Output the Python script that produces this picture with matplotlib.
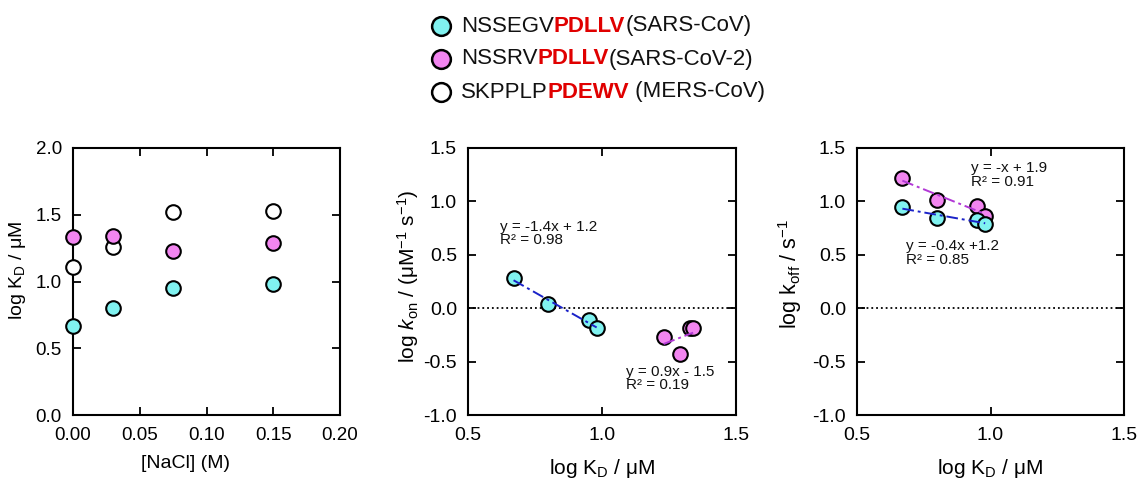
import numpy as np
import matplotlib
matplotlib.use("Agg")
import matplotlib.pyplot as plt
from matplotlib.lines import Line2D

plt.rcParams['font.family'] = ['Liberation Sans', 'DejaVu Sans']
plt.rcParams['mathtext.fontset'] = 'custom'
plt.rcParams['mathtext.rm'] = 'Liberation Sans'
plt.rcParams['mathtext.it'] = 'Liberation Sans:italic'
plt.rcParams['mathtext.bf'] = 'Liberation Sans:bold'
plt.rcParams['axes.unicode_minus'] = False

# ---------------- data ----------------
nacl = [0.0, 0.03, 0.075, 0.15]
kd_sars = [0.67, 0.80, 0.95, 0.98]
kd_sars2 = [1.33, 1.34, 1.23, 1.29]
kd_mers = [1.11, 1.26, 1.52, 1.53]

kon_sars = [0.28, 0.04, -0.11, -0.19]
kon_sars2 = [-0.19, -0.19, -0.27, -0.43]

koff_x = [0.67, 0.80, 0.95, 0.98]
koff_sars = [0.95, 0.84, 0.83, 0.79]
koff_sars2 = [1.22, 1.01, 0.96, 0.86]

legend_parts = [
    ("NSSEGV", "PDLLV", "(SARS-CoV)"),
    ("NSSRV", "PDLLV", "(SARS-CoV-2)"),
    ("SKPPLP", "PDEWV", " (MERS-CoV)"),
]
mid_eq_sars = "y = -1.4x + 1.2\nR² = 0.98"
mid_eq_sars2 = "y = 0.9x - 1.5\nR² = 0.19"
right_eq_sars2 = "y = -x + 1.9\nR² = 0.91"
right_eq_sars = "y = -0.4x +1.2\nR² = 0.85"

CYAN = '#80F2F0'
MAG = '#F285F0'
OPEN = 'white'
BLUE_LINE = '#1a22c8'
PURP_LINE = '#b238d6'

W, H = 1138, 479
fig = plt.figure(figsize=(W / 100, H / 100), dpi=100)


def rect(x0, x1, y0, y1):
    return [x0 / W, 1 - y1 / H, (x1 - x0) / W, (y1 - y0) / H]


ax1 = fig.add_axes(rect(73, 340, 148, 415))
ax2 = fig.add_axes(rect(468, 736, 148, 415))
ax3 = fig.add_axes(rect(857, 1124, 148, 415))

for ax in (ax1, ax2, ax3):
    for s in ax.spines.values():
        s.set_linewidth(1.5)
    ax.tick_params(direction='in', top=True, right=True, length=6, width=1.3,
                   labelsize=14)
    ax.tick_params(axis='x', pad=9)
    ax.tick_params(axis='y', pad=8)

ms = 10.5
mew = 1.5


def pts(ax, x, y, fc, z=3):
    ax.plot(x, y, 'o', ls='none', ms=ms, mfc=fc, mec='black', mew=mew,
            clip_on=False, zorder=z)


# ----- left panel -----
pts(ax1, nacl, kd_mers, OPEN)
pts(ax1, nacl, kd_sars2, MAG)
pts(ax1, nacl, kd_sars, CYAN)
ax1.set_xlim(0, 0.20)
ax1.set_ylim(0, 2.0)
ax1.set_xticks([0, 0.05, 0.10, 0.15, 0.20])
ax1.set_xticklabels([f"{v:.2f}" for v in [0, 0.05, 0.10, 0.15, 0.20]])
ax1.set_yticks([0, 0.5, 1.0, 1.5, 2.0])
ax1.set_yticklabels([f"{v:.1f}" for v in [0, 0.5, 1.0, 1.5, 2.0]])
ax1.tick_params(labelsize=13.5)
ax1.set_xlabel("[NaCl] (M)", fontsize=14)
ax1.xaxis.set_label_coords(0.42, -0.15)
ax1.set_ylabel("log K$_\\mathrm{D}$ / μM", fontsize=14)
ax1.yaxis.set_label_coords(-0.17, 0.54)


def fitline(ax, x, y, color):
    x = np.asarray(x)
    y = np.asarray(y)
    k, b = np.polyfit(x, y, 1)
    xx = np.array([x.min(), x.max()])
    ax.plot(xx, k * xx + b, ls=(0, (6, 2, 1.5, 2)), color=color, lw=1.4, zorder=4)


eq_kw = dict(fontsize=11, va='top', ha='left', linespacing=0.95, color='#111111')

# ----- middle panel -----
ax2.axhline(0, color='black', ls=':', lw=1.3, zorder=1)
pts(ax2, kd_sars, kon_sars, CYAN)
pts(ax2, kd_sars2, kon_sars2, MAG)
fitline(ax2, kd_sars, kon_sars, BLUE_LINE)
fitline(ax2, kd_sars2, kon_sars2, PURP_LINE)
ax2.set_xlim(0.5, 1.5)
ax2.set_ylim(-1.0, 1.5)
ax2.set_xticks([0.5, 1.0, 1.5])
ax2.set_xticklabels(["0.5", "1.0", "1.5"])
ax2.set_yticks([-1.0, -0.5, 0, 0.5, 1.0, 1.5])
ax2.set_yticklabels(["-1.0", "-0.5", "0.0", "0.5", "1.0", "1.5"])
ax2.set_xlabel("log K$_\\mathrm{D}$ / μM", fontsize=15)
ax2.xaxis.set_label_coords(0.5, -0.158)
ax2.set_ylabel("log $\\mathit{k}_\\mathrm{on}$ / (μM$^{\\mathrm{-1}}$ s$^{\\mathrm{-1}}$)",
               fontsize=15)
ax2.yaxis.set_label_coords(-0.175, 0.52)
ax2.text(0.619, 0.83, mid_eq_sars, **eq_kw)
ax2.text(1.09, -0.53, mid_eq_sars2, **eq_kw)

# ----- right panel -----
ax3.axhline(0, color='black', ls=':', lw=1.3, zorder=1)
pts(ax3, koff_x, koff_sars2, MAG)
pts(ax3, koff_x, koff_sars, CYAN)
fitline(ax3, koff_x, koff_sars2, PURP_LINE)
fitline(ax3, koff_x, koff_sars, BLUE_LINE)
ax3.set_xlim(0.5, 1.5)
ax3.set_ylim(-1.0, 1.5)
ax3.set_xticks([0.5, 1.0, 1.5])
ax3.set_xticklabels(["0.5", "1.0", "1.5"])
ax3.set_yticks([-1.0, -0.5, 0, 0.5, 1.0, 1.5])
ax3.set_yticklabels(["-1.0", "-0.5", "0.0", "0.5", "1.0", "1.5"])
ax3.set_xlabel("log K$_\\mathrm{D}$ / μM", fontsize=15)
ax3.xaxis.set_label_coords(0.5, -0.158)
ax3.set_ylabel("log k$_\\mathrm{off}$ / s$^{\\mathrm{-1}}$", fontsize=15.5)
ax3.yaxis.set_label_coords(-0.2, 0.53)
ax3.text(0.926, 1.375, right_eq_sars2, **eq_kw)
ax3.text(0.684, 0.645, right_eq_sars, **eq_kw)

# ----- legend (top) -----
rows_y = [26, 59, 92]
fills = [CYAN, MAG, OPEN]
for (a, b, c), yy, fc in zip(legend_parts, rows_y, fills):
    fy = 1 - yy / H
    fig.lines.append(Line2D([441 / W], [fy], marker='o', ms=13.5,
                            mfc=fc, mec='black', mew=1.8,
                            transform=fig.transFigure, ls='none'))
    t1 = fig.text(461 / W, fy, a, fontsize=16, va='center', ha='left', color='#111111')
    a2 = plt.annotate(b, xy=(1, 0), xycoords=t1, va='bottom', ha='left',
                      fontsize=16, fontweight='bold', color='#e00000',
                      annotation_clip=False)
    plt.annotate(c, xy=(1, 0), xycoords=a2, va='bottom', ha='left',
                 fontsize=16, color='#111111', annotation_clip=False)

fig.savefig("out.png", dpi=100)
